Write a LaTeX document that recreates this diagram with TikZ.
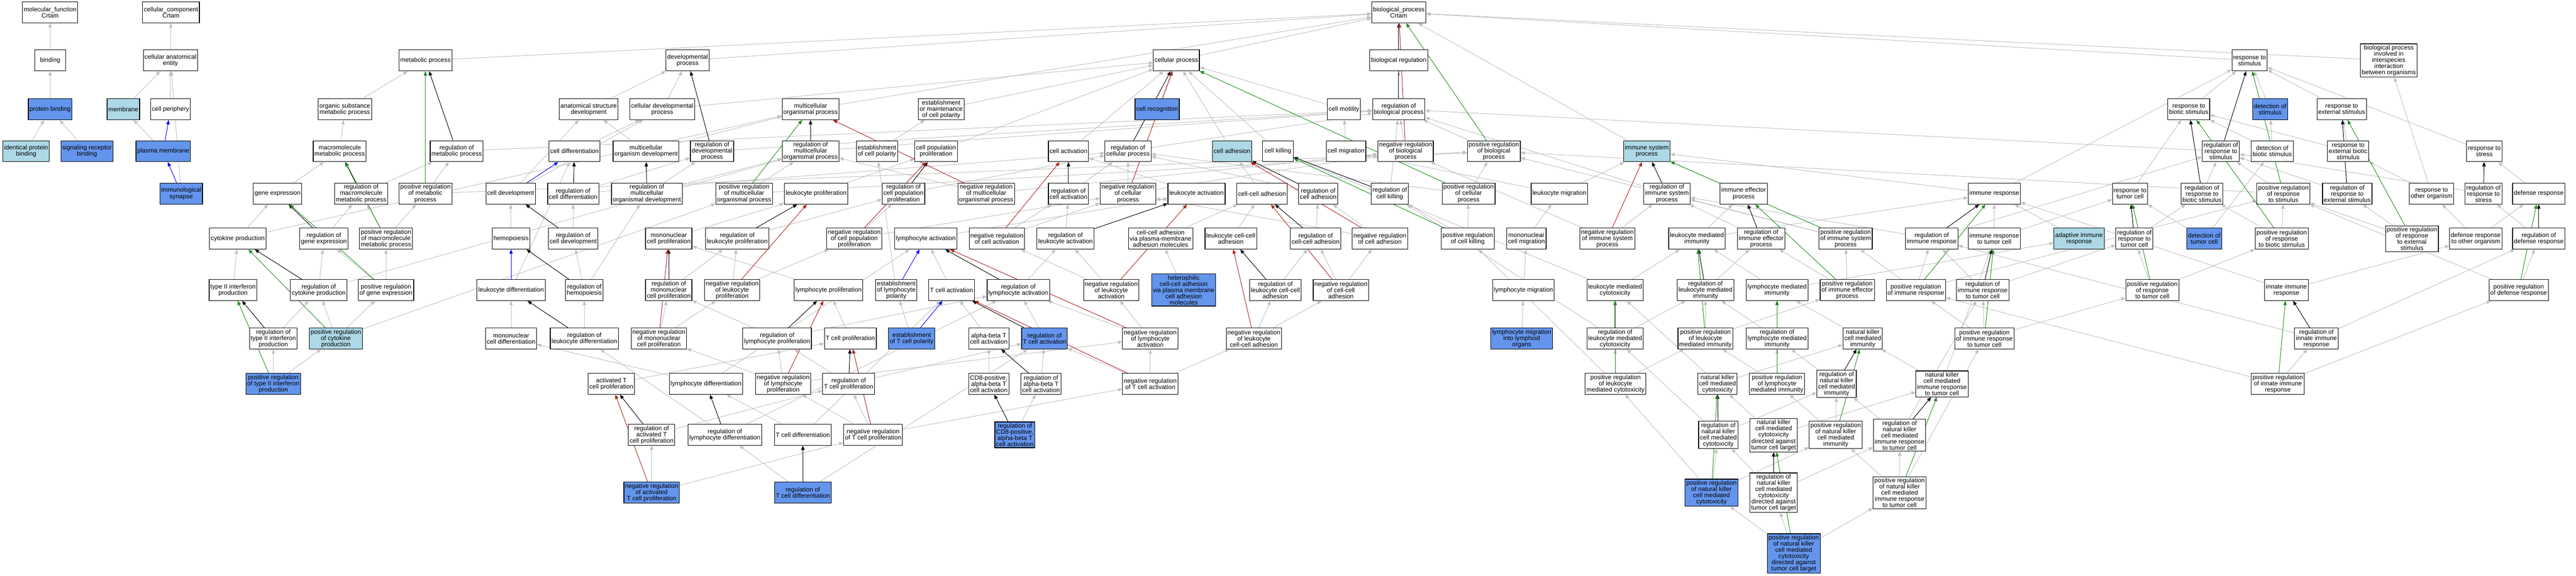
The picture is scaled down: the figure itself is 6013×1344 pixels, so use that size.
\documentclass[tikz,border=0pt]{standalone}
\usepackage{fontspec}
\setmainfont{Liberation Sans}
\usetikzlibrary{arrows.meta,backgrounds}
\definecolor{hitblue}{HTML}{6495ED}
\definecolor{litblue}{HTML}{ADD8E6}
\definecolor{edgegrey}{HTML}{C0C0C0}
\definecolor{posgreen}{HTML}{228B22}
\definecolor{negred}{HTML}{B22222}
\newcommand{\gofont}{\fontsize{7.3}{7.25}\selectfont}
\begin{document}
\begin{tikzpicture}[x=0.5pt,y=-0.5pt,
    goterm/.style={draw,line width=0.7pt,fill=white,align=center,font=\gofont,inner xsep=1.5pt,inner ysep=1.5pt,minimum height=24.5pt,minimum width=36pt},
    hitterm/.style={goterm,fill=hitblue},
    seedterm/.style={goterm,fill=litblue},
    isa/.style={draw=edgegrey,line width=0.6pt,-{Triangle[length=5pt,width=4pt]}},
    regs/.style={isa,draw=black},
    posreg/.style={isa,draw=posgreen},
    negreg/.style={isa,draw=negred},
    partof/.style={isa,draw=blue}]
\useasboundingbox (0,0) rectangle (6013,1344);
\node[goterm] (mf) at (117,29) {molecular\_function\\Crtam};
\node[goterm] (cc) at (399,29) {cellular\_component\\Crtam};
\node[goterm] (bind) at (117,141) {binding};
\node[goterm] (cae) at (398,141) {cellular anatomical\\entity};
\node[hitterm] (pbind) at (117,255) {protein binding};
\node[seedterm] (memb) at (288,255) {membrane};
\node[goterm] (cper) at (398,255) {cell periphery};
\node[seedterm] (ipb) at (61,353) {identical protein\\binding};
\node[hitterm] (srb) at (203,353) {signaling receptor\\binding};
\node[hitterm] (pmem) at (381,353) {plasma membrane};
\node[hitterm] (isyn) at (423,452) {immunological\\synapse};
\node[goterm] (bp) at (3265,29) {biological\_process\\Crtam};
\node[goterm] (metab) at (993,141) {metabolic process};
\node[goterm] (devp) at (1605,141) {developmental\\process};
\node[goterm] (cellp) at (2746,141) {cellular process};
\node[goterm] (bioreg) at (3265,141) {biological regulation};
\node[goterm] (rstim) at (5251,141) {response to\\stimulus};
\node[goterm] (inter) at (5576,141) {biological process\\involved in\\interspecies\\interaction\\between organisms};
\node[goterm] (osmp) at (805,255) {organic substance\\metabolic process};
\node[goterm] (asd) at (1374,255) {anatomical structure\\development};
\node[goterm] (cdp) at (1546,255) {cellular developmental\\process};
\node[goterm] (mop) at (1892,255) {multicellular\\organismal process};
\node[goterm] (emcp) at (2197,255) {establishment\\or maintenance\\of cell polarity};
\node[hitterm] (crec) at (2701,255) {cell recognition};
\node[goterm] (cmot) at (3137,255) {cell motility};
\node[goterm] (rbp) at (3265,255) {regulation of\\biological process};
\node[goterm] (rbio) at (5109,255) {response to\\biotic stimulus};
\node[hitterm] (dstim) at (5299,255) {detection of\\stimulus};
\node[goterm] (rext) at (5466,255) {response to\\external stimulus};
\node[goterm] (mmp) at (793,353) {macromolecule\\metabolic process};
\node[goterm] (rmp) at (1066,353) {regulation of\\metabolic process};
\node[goterm] (cdiff) at (1341,353) {cell differentiation};
\node[goterm] (mod) at (1508,353) {multicellular\\organism development};
\node[goterm] (rdp) at (1662,353) {regulation of\\developmental\\process};
\node[goterm] (rmop) at (1892,353) {regulation of\\multicellular\\organismal process};
\node[goterm] (ecp) at (2047,353) {establishment\\of cell polarity};
\node[goterm] (cpp) at (2185,353) {cell population\\proliferation};
\node[goterm] (cact) at (2494,353) {cell activation};
\node[goterm] (rcp) at (2633,353) {regulation of\\cellular process};
\node[seedterm] (cadh) at (2876,353) {cell adhesion};
\node[goterm] (ckill) at (2983,353) {cell killing};
\node[goterm] (cmig) at (3142,353) {cell migration};
\node[goterm] (nrbp) at (3281,353) {negative regulation\\of biological\\process};
\node[goterm] (prbp) at (3487,353) {positive regulation\\of biological\\process};
\node[seedterm] (isp) at (3844,353) {immune system\\process};
\node[goterm] (rrs) at (5184,353) {regulation of\\response to\\stimulus};
\node[goterm] (dbio) at (5304,353) {detection of\\biotic stimulus};
\node[goterm] (rebs) at (5481,353) {response to\\external biotic\\stimulus};
\node[goterm] (rstress) at (5799,353) {response to\\stress};
\node[goterm] (gexp) at (648,452) {gene expression};
\node[goterm] (rmmp) at (843,452) {regulation of\\macromolecule\\metabolic process};
\node[goterm] (prmp) at (993,452) {positive regulation\\of metabolic\\process};
\node[goterm] (cdev) at (1192,452) {cell development};
\node[goterm] (rcd) at (1338,452) {regulation of\\cell differentiation};
\node[goterm] (rmod) at (1510,452) {regulation of\\multicellular\\organismal development};
\node[goterm] (prmop) at (1737,452) {positive regulation\\of multicellular\\organismal process};
\node[goterm] (lprol) at (1905,452) {leukocyte proliferation};
\node[goterm] (rcpp) at (2109,452) {regulation of\\cell population\\proliferation};
\node[goterm] (nrmop) at (2302,452) {negative regulation\\of multicellular\\organismal process};
\node[goterm] (rca) at (2494,452) {regulation of\\cell activation};
\node[goterm] (nrcp) at (2633,452) {negative regulation\\of cellular\\process};
\node[goterm] (lact) at (2793,452) {leukocyte activation};
\node[goterm] (ccadh) at (2946,452) {cell-cell adhesion};
\node[goterm] (rcadh) at (3077,452) {regulation of\\cell adhesion};
\node[goterm] (rck) at (3244,452) {regulation of\\cell killing};
\node[goterm] (prcp) at (3428,452) {positive regulation\\of cellular\\process};
\node[goterm] (lmig) at (3640,452) {leukocyte migration};
\node[goterm] (risp) at (3891,452) {regulation of\\immune system\\process};
\node[goterm] (iep) at (4070,452) {immune effector\\process};
\node[goterm] (iresp) at (4655,452) {immune response};
\node[goterm] (rtc) at (4972,452) {response to\\tumor cell};
\node[goterm] (rrbs) at (5140,452) {regulation of\\response to\\biotic stimulus};
\node[goterm] (prrs) at (5330,452) {positive regulation\\of response\\to stimulus};
\node[goterm] (rres) at (5479,452) {regulation of\\response to\\external stimulus};
\node[goterm] (rorg) at (5676,452) {response to\\other organism};
\node[goterm] (rrstress) at (5797,452) {regulation of\\response to\\stress};
\node[goterm] (defr) at (5926,452) {defense response};
\node[goterm] (cytp) at (555,557) {cytokine production};
\node[goterm] (rge) at (756,557) {regulation of\\gene expression};
\node[goterm] (prmmp) at (901,557) {positive regulation\\of macromolecule\\metabolic process};
\node[goterm] (hemo) at (1193,557) {hemopoiesis};
\node[goterm] (rcdev) at (1338,557) {regulation of\\cell development};
\node[goterm] (mcp) at (1561,557) {mononuclear\\cell proliferation};
\node[goterm] (rlp) at (1721,557) {regulation of\\leukocyte proliferation};
\node[goterm] (nrcpp) at (1994,557) {negative regulation\\of cell population\\proliferation};
\node[goterm] (lyact) at (2161,557) {lymphocyte activation};
\node[goterm] (nrca) at (2327,557) {negative regulation\\of cell activation};
\node[goterm] (rla) at (2487,557) {regulation of\\leukocyte activation};
\node[goterm] (ccapm) at (2709,557) {cell-cell adhesion\\via plasma-membrane\\adhesion molecules};
\node[goterm] (lcca) at (2873,557) {leukocyte cell-cell\\adhesion};
\node[goterm] (rccadh) at (3071,557) {regulation of\\cell-cell adhesion};
\node[goterm] (nrcadh) at (3221,557) {negative regulation\\of cell adhesion};
\node[goterm] (prck) at (3426,557) {positive regulation\\of cell killing};
\node[goterm] (mcmig) at (3563,557) {mononuclear\\cell migration};
\node[goterm] (nrisp) at (3752,557) {negative regulation\\of immune system\\process};
\node[goterm] (lmi) at (3961,557) {leukocyte mediated\\immunity};
\node[goterm] (riep) at (4111,557) {regulation of\\immune effector\\process};
\node[goterm] (prisp) at (4308,557) {positive regulation\\of immune system\\process};
\node[goterm] (rir) at (4509,557) {regulation of\\immune response};
\node[goterm] (irtc) at (4655,557) {immune response\\to tumor cell};
\node[seedterm] (air) at (4853,557) {adaptive immune\\response};
\node[goterm] (rrtc) at (4982,557) {regulation of\\response to\\tumor cell};
\node[hitterm] (dtc) at (5145,557) {detection of\\tumor cell};
\node[goterm] (prrbs) at (5326,557) {positive regulation\\of response\\to biotic stimulus};
\node[goterm] (prres) at (5630,557) {positive regulation\\of response\\to external\\stimulus};
\node[goterm] (dro) at (5779,557) {defense response\\to other organism};
\node[goterm] (rdr) at (5926,557) {regulation of\\defense response};
\node[goterm] (t2p) at (544,677) {type II interferon\\production};
\node[goterm] (rcytp) at (744,677) {regulation of\\cytokine production};
\node[goterm] (prge) at (901,677) {positive regulation\\of gene expression};
\node[goterm] (ldiff) at (1193,677) {leukocyte differentiation};
\node[goterm] (rhemo) at (1364,677) {regulation of\\hemopoiesis};
\node[goterm] (rmcp) at (1561,677) {regulation of\\mononuclear\\cell proliferation};
\node[goterm] (nrlp) at (1709,677) {negative regulation\\of leukocyte\\proliferation};
\node[goterm] (lyprol) at (1934,677) {lymphocyte proliferation};
\node[goterm] (elp) at (2092,677) {establishment\\of lymphocyte\\polarity};
\node[goterm] (tca) at (2221,677) {T cell activation};
\node[goterm] (rlya) at (2377,677) {regulation of\\lymphocyte activation};
\node[goterm] (nrla) at (2594,677) {negative regulation\\of leukocyte\\activation};
\node[hitterm] (hcca) at (2763,677) {heterophilic\\cell-cell adhesion\\via plasma membrane\\cell adhesion\\molecules};
\node[goterm] (rlcca) at (2977,677) {regulation of\\leukocyte cell-cell\\adhesion};
\node[goterm] (nrccadh) at (3130,677) {negative regulation\\of cell-cell\\adhesion};
\node[goterm] (lymig) at (3556,677) {lymphocyte migration};
\node[goterm] (lmc) at (3770,677) {leukocyte mediated\\cytotoxicity};
\node[goterm] (rlmi) at (3981,677) {regulation of\\leukocyte mediated\\immunity};
\node[goterm] (lymi) at (4148,677) {lymphocyte mediated\\immunity};
\node[goterm] (prierp) at (4312,677) {positive regulation\\of immune effector\\process};
\node[goterm] (prir) at (4472,677) {positive regulation\\of immune response};
\node[goterm] (rirtc) at (4628,677) {regulation of\\immune response\\to tumor cell};
\node[goterm] (prrtc) at (5024,677) {positive regulation\\of response\\to tumor cell};
\node[goterm] (iir) at (5337,677) {innate immune\\response};
\node[goterm] (prdr) at (5879,677) {positive regulation\\of defense response};
\node[goterm] (rt2p) at (638,790) {regulation of\\type II interferon\\production};
\node[seedterm] (prcytp) at (784,790) {positive regulation\\of cytokine\\production};
\node[goterm] (mcd) at (1193,790) {mononuclear\\cell differentiation};
\node[goterm] (rld) at (1364,790) {regulation of\\leukocyte differentiation};
\node[goterm] (nrmcp) at (1538,790) {negative regulation\\of mononuclear\\cell proliferation};
\node[goterm] (rlyp) at (1814,790) {regulation of\\lymphocyte proliferation};
\node[goterm] (tcp) at (1985,790) {T cell proliferation};
\node[hitterm] (etcp) at (2128,790) {establishment\\of T cell polarity};
\node[goterm] (abtca) at (2308,790) {alpha-beta T\\cell activation};
\node[hitterm] (rtca) at (2438,790) {regulation of\\T cell activation};
\node[goterm] (nrlya) at (2685,790) {negative regulation\\of lymphocyte\\activation};
\node[goterm] (nrlcca) at (2927,790) {negative regulation\\of leukocyte\\cell-cell adhesion};
\node[hitterm] (lmilo) at (3552,790) {lymphocyte migration\\into lymphoid\\organs};
\node[goterm] (rlmc) at (3770,790) {regulation of\\leukocyte mediated\\cytotoxicity};
\node[goterm] (prlmi) at (3981,790) {positive regulation\\of leukocyte\\mediated immunity};
\node[goterm] (rlymi) at (4148,790) {regulation of\\lymphocyte mediated\\immunity};
\node[goterm] (nkmi) at (4348,790) {natural killer\\cell mediated\\immunity};
\node[goterm] (prirtc) at (4632,790) {positive regulation\\of immune response\\to tumor cell};
\node[goterm] (riir) at (5407,790) {regulation of\\innate immune\\response};
\node[hitterm] (prt2p) at (638,896) {positive regulation\\of type II interferon\\production};
\node[goterm] (atcp) at (1427,896) {activated T\\cell proliferation};
\node[goterm] (lyd) at (1648,896) {lymphocyte differentiation};
\node[goterm] (nrlyp) at (1828,896) {negative regulation\\of lymphocyte\\proliferation};
\node[goterm] (rtcp) at (1981,896) {regulation of\\T cell proliferation};
\node[goterm] (cd8a) at (2308,896) {CD8-positive,\\alpha-beta T\\cell activation};
\node[goterm] (rabtca) at (2430,896) {regulation of\\alpha-beta T\\cell activation};
\node[goterm] (nrtca) at (2685,896) {negative regulation\\of T cell activation};
\node[goterm] (prlmc) at (3771,896) {positive regulation\\of leukocyte\\mediated cytotoxicity};
\node[goterm] (nkmc) at (4009,896) {natural killer\\cell mediated\\cytotoxicity};
\node[goterm] (prlymi) at (4148,896) {positive regulation\\of lymphocyte\\mediated immunity};
\node[goterm] (rnkmi) at (4287,896) {regulation of\\natural killer\\cell mediated\\immunity};
\node[goterm] (nkrtc) at (4533,896) {natural killer\\cell mediated\\immune response\\to tumor cell};
\node[goterm] (priir) at (5317,896) {positive regulation\\of innate immune\\response};
\node[goterm] (ratcp) at (1521,1015) {regulation of\\activated T\\cell proliferation};
\node[goterm] (rlyd) at (1692,1015) {regulation of\\lymphocyte differentiation};
\node[goterm] (tcd) at (1874,1015) {T cell differentiation};
\node[goterm] (nrtcp) at (2038,1015) {negative regulation\\of T cell proliferation};
\node[hitterm] (rcd8a) at (2369,1015) {regulation of\\CD8-positive,\\alpha-beta T\\cell activation};
\node[goterm] (rnkmc) at (4011,1015) {regulation of\\natural killer\\cell mediated\\cytotoxicity};
\node[goterm] (nkct) at (4140,1016) {natural killer\\cell mediated\\cytotoxicity\\directed against\\tumor cell target};
\node[goterm] (prnkmi) at (4285,1015) {positive regulation\\of natural killer\\cell mediated\\immunity};
\node[goterm] (rnkrtc) at (4434,1016) {regulation of\\natural killer\\cell mediated\\immune response\\to tumor cell};
\node[hitterm] (nratcp) at (1521,1150) {negative regulation\\of activated\\T cell proliferation};
\node[hitterm] (rtcd) at (1874,1150) {regulation of\\T cell differentiation};
\node[hitterm] (prnkmc) at (3995,1150) {positive regulation\\of natural killer\\cell mediated\\cytotoxicity};
\node[goterm] (rnkct) at (4140,1150) {regulation of\\natural killer\\cell mediated\\cytotoxicity\\directed against\\tumor cell target};
\node[goterm] (prnkrtc) at (4434,1150) {positive regulation\\of natural killer\\cell mediated\\immune response\\to tumor cell};
\node[hitterm] (prnkct) at (4187,1292) {positive regulation\\of natural killer\\cell mediated\\cytotoxicity\\directed against\\tumor cell target};
\begin{scope}[on background layer]
\foreach \a/\b in {bind/mf,pbind/bind,ipb/pbind,srb/pbind,cae/cc,memb/cae,cper/cae,pmem/memb,isyn/cae,
    metab/bp,devp/bp,cellp/bp,bioreg/bp,rstim/bp,inter/bp,isp/bp,mop/bp,rbp/bioreg,
    osmp/metab,mmp/osmp,gexp/mmp,rmmp/rmp,rmp/rbp,prmp/rmp,prmp/prbp,
    cytp/gexp,cytp/mop,rge/rmmp,prmmp/rmmp,prmmp/prmp,t2p/cytp,rcytp/rge,rcytp/rmop,prge/rge,prge/prmmp,
    rt2p/rcytp,prcytp/rcytp,prcytp/prge,prcytp/prmop,prt2p/rt2p,prt2p/prcytp,
    asd/devp,cdp/devp,cdp/cellp,cdiff/cdp,mod/asd,mod/mop,rdp/rbp,rmop/rbp,cdev/asd,cdev/cdp,
    rcd/rdp,rcd/rcp,rmod/rdp,rmod/rmop,prmop/rmop,prmop/prbp,lprol/cpp,hemo/cdev,
    rcdev/rcd,mcp/lprol,rlp/rcpp,nrcpp/rcpp,nrcpp/nrcp,ldiff/cdiff,rhemo/rmod,rhemo/rcdev,
    rmcp/rlp,nrlp/rlp,nrlp/nrcpp,lyprol/mcp,mcd/ldiff,rld/rhemo,nrmcp/rmcp,nrmcp/nrlp,
    rlyp/rmcp,rlyp/rlya,tcp/lyprol,atcp/tcp,lyd/mcd,lyd/lyact,nrlyp/rlyp,nrlyp/nrmcp,nrlyp/nrlya,
    rtcp/rlyp,rtcp/rtca,ratcp/rtcp,rlyd/rld,rlyd/rlya,tcd/lyd,tcd/tca,nrtcp/rtcp,nrtcp/nrlyp,
    nrtcp/nrtca,nratcp/ratcp,nratcp/nrtcp,rtcd/rlyd,rtcd/rtca,
    emcp/cellp,ecp/emcp,cpp/cellp,cact/cellp,rcp/rbp,crec/cellp,cadh/cellp,ckill/cellp,cmot/cellp,
    cmig/cmot,rcpp/rcp,nrmop/rmop,nrmop/nrbp,rca/rcp,nrcp/rcp,nrcp/nrbp,lact/cact,ccadh/cadh,
    lyact/lact,nrca/rca,nrca/nrcp,rla/rca,ccapm/ccadh,lcca/ccadh,elp/ecp,tca/lyact,rlya/rla,
    nrla/rla,nrla/nrca,hcca/ccapm,rlcca/rccadh,etcp/elp,abtca/tca,rtca/rlya,nrlya/rlya,
    nrlya/nrla,nrlcca/rlcca,nrlcca/nrccadh,cd8a/abtca,rabtca/rtca,nrtca/rtca,nrtca/nrlya,
    nrtca/nrlcca,rcd8a/rabtca,
    nrbp/rbp,prbp/rbp,rcadh/rcp,rck/rbp,prcp/rcp,prcp/prbp,lmig/cmig,lmig/isp,risp/rbp,
    rccadh/rcadh,nrcadh/rcadh,nrcadh/nrcp,prck/rck,prck/prcp,mcmig/lmig,nrisp/risp,nrisp/nrbp,
    lmi/iep,lmi/iresp,nrccadh/rccadh,nrccadh/nrcadh,lymig/mcmig,lmc/lmi,lmc/ckill,rlmi/riep,
    lmilo/lymig,rlmc/rlmi,rlmc/rck,prlmi/rlmi,prlmi/prierp,prlmc/rlmc,prlmc/prlmi,prlmc/prck,
    nkmc/lmc,nkmc/nkmi,rnkmc/rlmc,rnkmc/rnkmi,prnkmc/prlmc,prnkmc/rnkmc,prnkmc/prnkmi,
    iep/isp,iresp/isp,iresp/rstim,rtc/rbio,riep/risp,prisp/risp,prisp/prbp,rir/risp,rir/rrs,
    irtc/iresp,irtc/rtc,air/iresp,rrtc/rrbs,lymi/lmi,lymi/air,prierp/riep,prierp/prisp,
    prir/rir,prir/prisp,prir/prrs,rirtc/rir,rirtc/rrtc,prrtc/rrtc,prrtc/prrbs,
    rlymi/rlmi,nkmi/lymi,prirtc/rirtc,prirtc/prir,prirtc/prrtc,prlymi/rlymi,prlymi/prlmi,
    rnkmi/rlymi,nkrtc/nkmi,nkrtc/irtc,nkct/nkmc,nkct/nkrtc,prnkmi/rnkmi,prnkmi/prlymi,
    rnkrtc/rnkmi,rnkrtc/rirtc,rnkct/rnkmc,rnkct/rnkrtc,prnkrtc/rnkrtc,prnkrtc/prnkmi,
    prnkrtc/prirtc,prnkct/rnkct,prnkct/prnkmc,prnkct/prnkrtc,
    rbio/rstim,dstim/rstim,rext/rstim,rrs/rbp,dbio/dstim,dbio/rbio,rebs/rext,rebs/rbio,
    rstress/rstim,rrbs/rrs,prrs/rrs,prrs/prbp,rres/rrs,rorg/rebs,rorg/inter,rrstress/rrs,
    defr/rstress,dtc/dbio,dtc/rtc,prrbs/rrbs,prrbs/prrs,prres/rres,prres/prrs,dro/rorg,
    dro/defr,rdr/rrstress,iir/iresp,iir/dro,prdr/rdr,prdr/prrs,riir/rir,riir/rdr,
    priir/riir,priir/prir,priir/prdr}
  \draw[isa] (\a) -- (\b);
\foreach \a/\b in {rbp/bp,rmp/metab,rmmp/mmp,rge/gexp,rcytp/cytp,rt2p/t2p,rdp/devp,rmop/mop,
    rcd/cdiff,rmod/mod,rcdev/cdev,rhemo/hemo,rmcp/mcp,rlp/lprol,rld/ldiff,rlyp/lyprol,rtcp/tcp,
    ratcp/atcp,rlyd/lyd,rtcd/tcd,rcp/cellp,rcpp/cpp,rca/cact,rla/lact,rlya/lyact,rtca/tca,
    rlcca/lcca,rabtca/abtca,rcd8a/cd8a,rcadh/cadh,rccadh/ccadh,rck/ckill,risp/isp,rlmi/lmi,
    rlmc/lmc,rnkmc/nkmc,riep/iep,rir/iresp,rrtc/rtc,rirtc/irtc,rlymi/lymi,rnkmi/nkmi,
    rnkrtc/nkrtc,rnkct/nkct,rrs/rstim,rrbs/rbio,rres/rext,rrstress/rstress,rdr/defr,riir/iir}
  \draw[regs] (\a) -- (\b);
\foreach \a/\b in {prbp/bp,prmp/metab,prmmp/mmp,prge/gexp,prcytp/cytp,prt2p/t2p,prmop/mop,
    prcp/cellp,prck/ckill,prisp/isp,prlmi/lmi,prlmc/lmc,prnkmc/nkmc,prierp/iep,prir/iresp,
    prrtc/rtc,prirtc/irtc,prlymi/lymi,prnkmi/nkmi,prnkrtc/nkrtc,prnkct/nkct,prrs/rstim,
    prrbs/rbio,prres/rext,prdr/defr,priir/iir}
  \draw[posreg] (\a) -- (\b);
\foreach \a/\b in {nrbp/bp,nrcpp/cpp,nrmop/mop,nrcp/cellp,nrca/cact,nrla/lact,nrlya/lyact,
    nrtca/tca,nrlcca/lcca,nrcadh/cadh,nrccadh/ccadh,nrisp/isp,nrlp/lprol,nrmcp/mcp,
    nrlyp/lyprol,nrtcp/tcp,nratcp/atcp}
  \draw[negreg] (\a) -- (\b);
\foreach \a/\b in {pmem/cper,isyn/pmem,cdev/cdiff,ldiff/hemo,elp/lyact,etcp/tca}
  \draw[partof] (\a) -- (\b);
\end{scope}
\end{tikzpicture}
\end{document}
